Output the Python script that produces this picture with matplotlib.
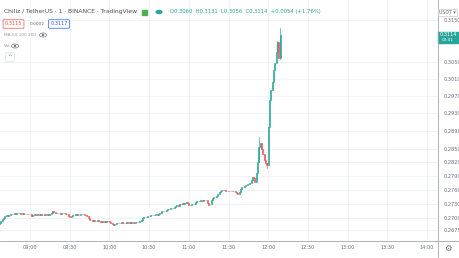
import matplotlib
matplotlib.use("Agg")
import matplotlib.pyplot as plt
from matplotlib.lines import Line2D
from matplotlib.patches import Rectangle, Circle, Ellipse
from matplotlib.ticker import NullLocator, FixedLocator, FixedFormatter

# 1 minute CHZ/USDT candles, first candle at 08:37 (minutes counted from 09:00)
start_minute = -23
first_open = 0.2688
closes = [
    0.2690, 0.2694, 0.2698, 0.2701, 0.2704, 0.2706, 0.2705, 0.2707, 0.2708, 0.2709,
    0.2710, 0.2711, 0.2710, 0.2711, 0.2712, 0.2711, 0.2710, 0.2711, 0.2710, 0.2709,
    0.2710, 0.2709, 0.2710, 0.2708, 0.2704, 0.2707, 0.2708, 0.2707, 0.2706, 0.2708,
    0.2707, 0.2708, 0.2707, 0.2706, 0.2708, 0.2707, 0.2708, 0.2707, 0.2709, 0.2712,
    0.2715, 0.2714, 0.2711, 0.2712, 0.2711, 0.2712, 0.2710, 0.2711, 0.2712, 0.2711,
    0.2710, 0.2709, 0.2705, 0.2703, 0.2704, 0.2706, 0.2707, 0.2708, 0.2707, 0.2708,
    0.2707, 0.2708, 0.2709, 0.2708, 0.2707, 0.2706, 0.2705, 0.2700, 0.2697, 0.2696,
    0.2695, 0.2697, 0.2695, 0.2694, 0.2696, 0.2695, 0.2693, 0.2694, 0.2693, 0.2694,
    0.2693, 0.2694, 0.2695, 0.2693, 0.2690, 0.2688, 0.2686, 0.2688, 0.2690, 0.2691,
    0.2690, 0.2691, 0.2692, 0.2691, 0.2690, 0.2691, 0.2692, 0.2691, 0.2692, 0.2691,
    0.2692, 0.2691, 0.2690, 0.2692, 0.2693, 0.2692, 0.2694, 0.2697, 0.2700, 0.2702,
    0.2703, 0.2703, 0.2704, 0.2705, 0.2706, 0.2707, 0.2706, 0.2707, 0.2708, 0.2707,
    0.2709, 0.2712, 0.2715, 0.2716, 0.2715, 0.2716, 0.2717, 0.2719, 0.2720, 0.2721,
    0.2722, 0.2721, 0.2724, 0.2727, 0.2728, 0.2727, 0.2730, 0.2731, 0.2732, 0.2731,
    0.2733, 0.2734, 0.2733, 0.2729, 0.2728, 0.2730, 0.2731, 0.2730, 0.2734, 0.2736,
    0.2737, 0.2736, 0.2738, 0.2737, 0.2739, 0.2738, 0.2739, 0.2733, 0.2728, 0.2731,
    0.2738, 0.2744, 0.2746, 0.2745, 0.2747, 0.2752, 0.2756, 0.2759, 0.2761, 0.2760,
    0.2761, 0.2757, 0.2758, 0.2757, 0.2758, 0.2759, 0.2757, 0.2758, 0.2756, 0.2753,
    0.2752, 0.2755, 0.2762, 0.2767, 0.2766, 0.2768, 0.2770, 0.2773, 0.2772, 0.2775,
    0.2782, 0.2788, 0.2787, 0.2777, 0.2797, 0.2821, 0.2855, 0.2863, 0.2850, 0.2838,
    0.2826, 0.2818, 0.2814, 0.2899, 0.2960, 0.2984, 0.3002, 0.3030, 0.3047, 0.3073,
    0.3097, 0.3060, 0.3114,
]
# only the wicks that are visible at this zoom
wick_highs = {196: 0.2876, 210: 0.3100, 212: 0.3131}
wick_lows = {202: 0.2808, 212: 0.3056}

time_ticks = [0, 30, 60, 90, 120, 150, 180, 210, 240, 270, 300]
time_labels = ["09:00", "09:30", "10:00", "10:30", "11:00", "11:30",
               "12:00", "12:30", "13:00", "13:30", "14:00"]
price_ticks = [0.2675, 0.2700, 0.2730, 0.2760, 0.2790, 0.2820, 0.2850,
               0.2890, 0.2930, 0.2970, 0.3010, 0.3050, 0.3150]
price_labels = ["%.4f" % p for p in price_ticks]

UP = "#26a69a"
DOWN = "#ef5350"
GRID = "#eef1f6"
TXT = "#6a6d78"
W, H = 460, 258


def fx(x):
    return x / W


def fy(y):
    return 1 - y / H


fig = plt.figure(figsize=(4.6, 2.58), dpi=100)
ax = fig.add_axes([0, fy(241), fx(438), 241 / H])
ax.set_yscale("log")
ax.set_xlim(-22.7, 308.3)
ax.set_ylim(0.26527, 0.32001)

opens = [first_open] + closes[:-1]
xs = [start_minute + i for i in range(len(closes))]
cols = [UP if c >= o else DOWN for o, c in zip(opens, closes)]
bottoms = [min(o, c) for o, c in zip(opens, closes)]
heights = [abs(c - o) for o, c in zip(opens, closes)]
ax.bar(xs, heights, bottom=bottoms, width=0.75, color=cols, edgecolor=cols,
       linewidth=0.45, zorder=3)
for i in sorted(set(wick_highs) | set(wick_lows)):
    o, c = opens[i], closes[i]
    hi = wick_highs.get(i, max(o, c))
    lo = wick_lows.get(i, min(o, c))
    ax.plot([xs[i], xs[i]], [lo, hi], color=cols[i], lw=0.45, zorder=2)

# grid and axes
ax.yaxis.set_minor_locator(NullLocator())
ax.yaxis.set_major_locator(FixedLocator(price_ticks))
ax.yaxis.set_major_formatter(FixedFormatter(price_labels))
ax.set_xticks(time_ticks)
ax.set_xticklabels(time_labels)
ax.grid(True, color=GRID, lw=0.6)
ax.set_axisbelow(True)
ax.yaxis.tick_right()
ax.tick_params(axis="y", length=0, pad=4, labelsize=3.6, labelcolor=TXT)
ax.tick_params(axis="x", length=0, pad=3, labelsize=3.6, labelcolor=TXT)
for s in ax.spines.values():
    s.set_visible(False)

# scale borders
fig.add_artist(Line2D([0, 1], [fy(241), fy(241)], color="#a3a6af", lw=0.6))
fig.add_artist(Line2D([fx(438), fx(438)], [0, 1], color="#a3a6af", lw=0.6))

# header
fig.text(fx(4), fy(12), "Chiliz / TetherUS · 1 · BINANCE · TradingView",
         fontsize=4.3, color="#4a4d57", va="center")
fig.add_artist(Rectangle((fx(142), fy(15)), fx(5), 5 / H, color="#4caf50"))
fig.add_artist(Circle((fx(159), fy(12)), 0.006, color=UP, transform=fig.transFigure))
fig.text(fx(170), fy(12), "O0.3060  H0.3131  L0.3056  C0.3114  +0.0054 (+1.76%)",
         fontsize=3.8, color=UP, va="center")

fig.text(fx(13.5), fy(24), "0.3115", fontsize=3.6, color=DOWN, ha="center", va="center",
         bbox=dict(boxstyle="round,pad=0.35,rounding_size=0.15", fc="white", ec=DOWN, lw=0.5))
fig.text(fx(37), fy(24), "0.0002", fontsize=3.2, color=TXT, ha="center", va="center")
fig.text(fx(59), fy(24), "0.3117", fontsize=3.6, color="#2962ff", ha="center", va="center",
         bbox=dict(boxstyle="round,pad=0.35,rounding_size=0.15", fc="white", ec="#2962ff", lw=0.5))
fig.text(fx(4), fy(35), "MA 50 100 200", fontsize=3.1, color="#9598a1", va="center")
fig.text(fx(4), fy(46), "Vol", fontsize=3.1, color="#9598a1", va="center")
# eye icons
for ex, ey in [(43, 35), (15, 46)]:
    fig.add_artist(Ellipse((fx(ex), fy(ey)), fx(7), 4 / H, fc="none", ec=TXT, lw=0.5))
    fig.add_artist(Ellipse((fx(ex), fy(ey)), fx(2.2), 2.2 / H, fc=TXT, ec="none"))
fig.text(fx(10), fy(57), "^", fontsize=4, color=TXT, va="center", ha="center",
         bbox=dict(boxstyle="round,pad=0.4", fc="white", ec="#e0e3eb", lw=0.5))

# price scale widgets
fig.text(fx(447.5), fy(12.5), "USDT ▾", fontsize=3.4, color=TXT, ha="center", va="center",
         bbox=dict(boxstyle="square,pad=0.3", fc="white", ec="#c9ccd4", lw=0.5))
fig.add_artist(Rectangle((fx(438), fy(43)), fx(20), 11 / H, color=UP))
fig.text(fx(448), fy(35), "0.3114", fontsize=3.6, color="white", ha="center", va="center")
fig.text(fx(448), fy(40), "00:01", fontsize=3.0, color="white", ha="center", va="center")
fig.text(fx(448), fy(248), "⚙", fontsize=6, color=TXT, ha="center", va="center")

fig.savefig("out.png", dpi=100, facecolor="white")
